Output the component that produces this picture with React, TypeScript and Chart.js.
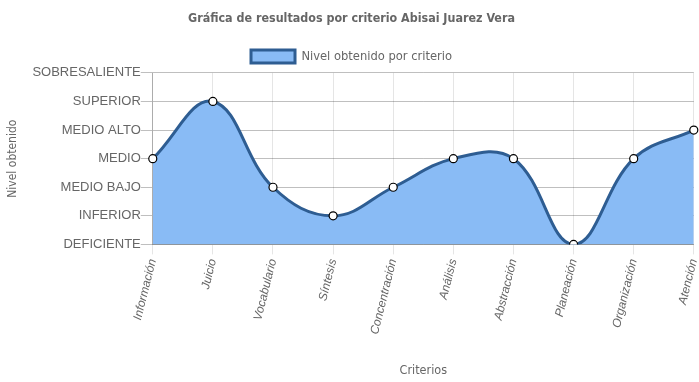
import React, { useEffect, useRef } from "react";
import { Chart, registerables } from "chart.js";

Chart.register(...registerables);

const categories = ["Información", "Juicio", "Vocabulario", "Síntesis", "Concentración", "Análisis", "Abstracción", "Planeación", "Organización", "Atención"];
const levels = ["DEFICIENTE", "INFERIOR", "MEDIO BAJO", "MEDIO", "MEDIO ALTO", "SUPERIOR", "SOBRESALIENTE"];
const values = [3, 5, 2, 1, 2, 3, 3, 0, 3, 4];

const narrow = "'Liberation Sans Narrow', 'Arial Narrow', 'DejaVu Sans Condensed', 'Liberation Sans', sans-serif";

export default function App() {
  const ref = useRef<HTMLCanvasElement>(null);
  useEffect(() => {
    document.body.style.margin = "0";
    const chart = new Chart(ref.current!, {
      type: "line",
      data: {
        labels: categories,
        datasets: [
          {
            label: "Nivel obtenido por criterio",
            data: values,
            borderColor: "#2e5d92",
            backgroundColor: "#89bbf5",
            borderWidth: 3,
            fill: true,
            tension: 0.4,
            pointRadius: 4,
            pointBackgroundColor: "#ffffff",
            pointBorderColor: "#000000",
            pointBorderWidth: 1.2,
          },
        ],
      },
      options: {
        responsive: false,
        animation: false,
        layout: { padding: { left: 6, right: 2, top: 1, bottom: 4 } },
        plugins: {
          title: {
            display: true,
            text: "Gráfica de resultados por criterio Abisai Juarez Vera",
            color: "#666",
            font: { family: narrow, size: 12.4, weight: "bold" },
            padding: { top: 10, bottom: 14 },
          },
          legend: {
            labels: {
              color: "#666",
              boxWidth: 44,
              boxHeight: 13,
              font: { family: narrow, size: 12.8 },
            },
          },
          tooltip: { enabled: false },
        },
        scales: {
          x: {
            afterFit: (s: any) => { s.paddingRight = 0; },
            grid: { color: "rgba(0,0,0,0.1)", tickLength: 10 },
            border: { color: "rgba(0,0,0,0.25)" },
            ticks: {
              color: "#666",
              maxRotation: 76,
              minRotation: 76,
              font: { family: "Liberation Sans", size: 12, style: "italic" },
            },
            title: {
              display: true,
              text: "Criterios",
              color: "#666",
              font: { family: narrow, size: 12.5 },
              padding: { top: 24, bottom: 0 },
            },
          },
          y: {
            min: 0,
            max: 6,
            grid: { color: "rgba(0,0,0,0.25)", tickLength: 12 },
            border: { color: "rgba(0,0,0,0.25)" },
            ticks: {
              stepSize: 1,
              color: "#666",
              padding: 0,
              font: { family: "Liberation Sans", size: 13 },
              callback: (v: any) => levels[Number(v)] ?? "",
            },
            title: {
              display: true,
              text: "Nivel obtenido",
              color: "#666",
              font: { family: narrow, size: 12 },
              padding: { top: 0, bottom: 12 },
            },
          },
        },
      },
    });
    return () => chart.destroy();
  }, []);
  return <canvas ref={ref} width={699} height={382} style={{ display: "block" }} />;
}
